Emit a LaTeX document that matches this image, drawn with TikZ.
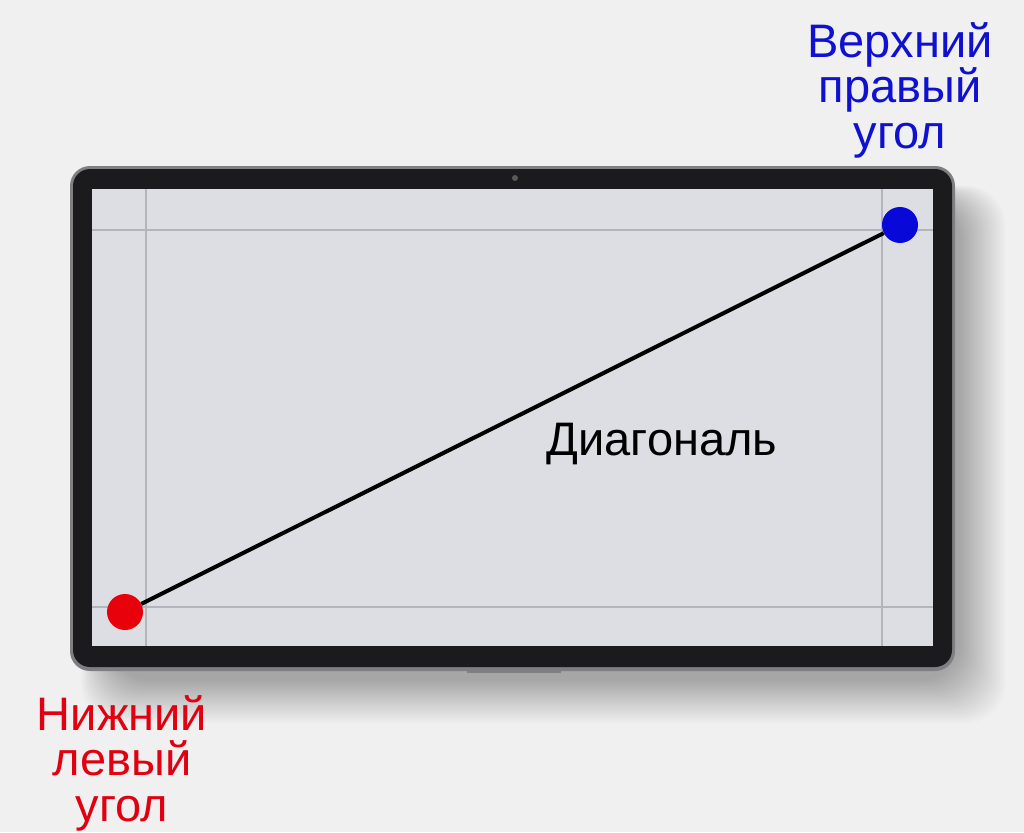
\documentclass[tikz,border=0pt]{standalone}
\usepackage{fontspec}
\setmainfont{Liberation Sans}
\definecolor{bg}{HTML}{F0F0F1}
\definecolor{rim}{HTML}{7E7F83}
\definecolor{bezel}{HTML}{1B1B1D}
\definecolor{screen}{HTML}{DCDEE3}
\definecolor{gridc}{HTML}{B2B5BC}
\definecolor{dotblue}{HTML}{0808D8}
\definecolor{dotred}{HTML}{E8000B}
\definecolor{lblblue}{HTML}{1010D0}
\definecolor{lblred}{HTML}{E00010}
\tikzset{
  dot/.style={circle, minimum size=36pt, inner sep=0pt},
  lbl/.style={align=center, font=\fontsize{47}{45.5}\selectfont, inner sep=0pt},
  gridline/.style={draw=gridc, line width=1.3pt},
}
\begin{document}
\begin{tikzpicture}[x=1pt,y=-1pt]
\useasboundingbox (0,0) rectangle (1024,832);
\fill[bg] (0,0) rectangle (1024,832);
% shadow
\foreach \i in {0,...,24}{
  \fill[black, opacity=0.012, rounded corners=40pt]
    (110-\i*1.2,200-\i*0.6) rectangle (960+\i*1.9,680+\i*1.8);
}
% tablet body
\fill[rim, rounded corners=20pt] (70,166) rectangle (955,671);
\fill[bezel, rounded corners=17pt] (73,169) rectangle (952,667);
\fill[rim] (467,669) rectangle (561,673);
% camera
\fill[gray!70!black] (515,178) circle (3pt);
% screen
\fill[screen] (92,189) rectangle (933,646);
% grid lines
\draw[gridline] (146,189) -- (146,646);
\draw[gridline] (882,189) -- (882,646);
\draw[gridline] (92,230) -- (933,230);
\draw[gridline] (92,607) -- (933,607);
% dots and diagonal
\node[dot, fill=dotred] (bl) at (125,612) {};
\node[dot, fill=dotblue] (tr) at (900,225) {};
\draw[line width=4pt, black] (bl) -- (tr);
\node[lbl, black] (diag) at (662,444) {Диагональ};
\node[lbl, text=lblblue] (trlbl) at (900,90) {Верхний\\правый\\угол};
\node[lbl, text=lblred] (bllbl) at (122,763) {Нижний\\левый\\угол};
\end{tikzpicture}
\end{document}
